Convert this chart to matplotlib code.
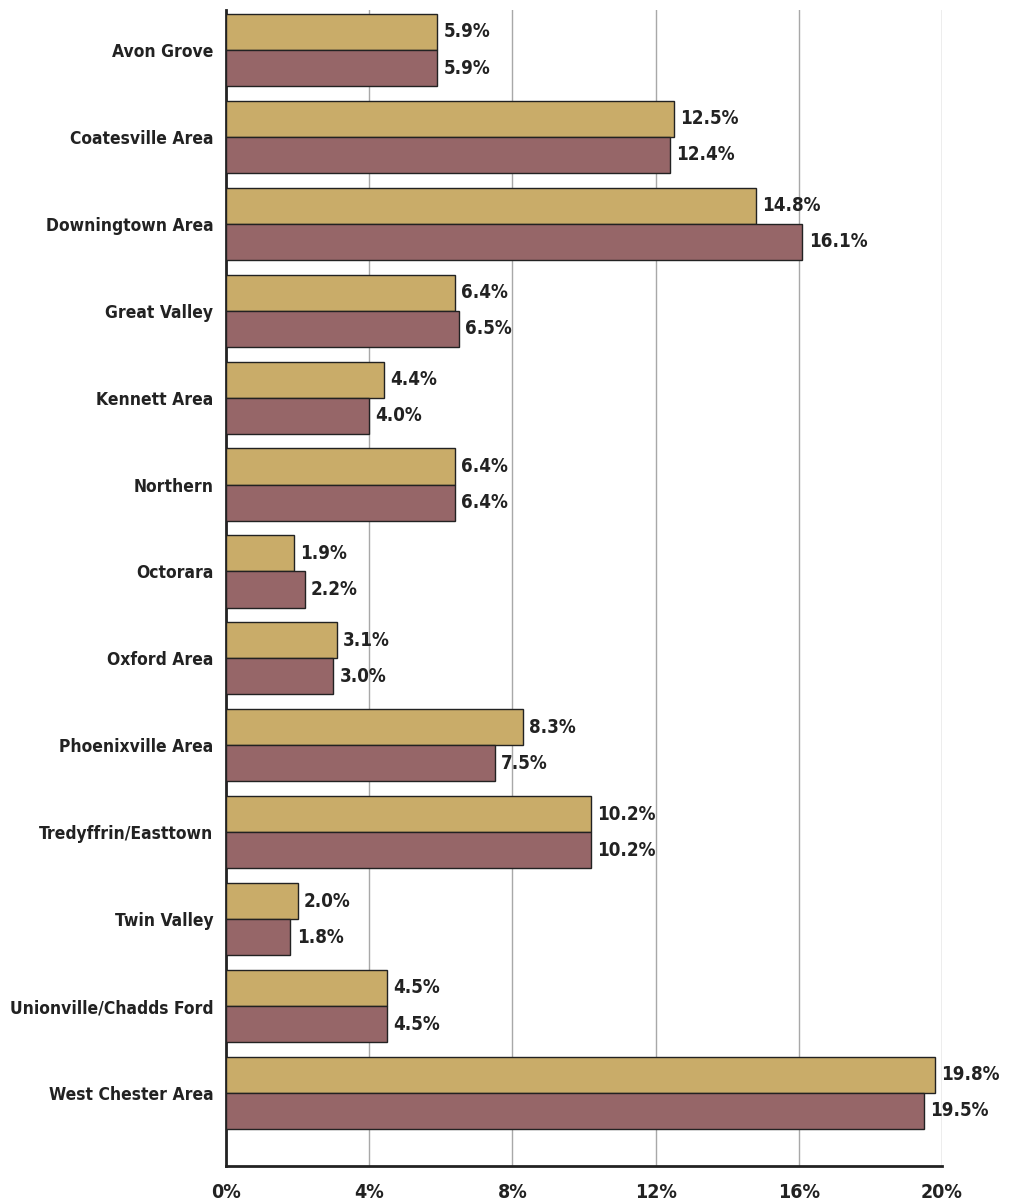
import matplotlib
matplotlib.use("Agg")
import matplotlib.pyplot as plt
import numpy as np

districts = ["Avon Grove", "Coatesville Area", "Downingtown Area", "Great Valley",
             "Kennett Area", "Northern", "Octorara", "Oxford Area",
             "Phoenixville Area", "Tredyffrin/Easttown", "Twin Valley",
             "Unionville/Chadds Ford", "West Chester Area"]
series_a = [5.9, 12.5, 14.8, 6.4, 4.4, 6.4, 1.9, 3.1, 8.3, 10.2, 2.0, 4.5, 19.8]
series_b = [5.9, 12.4, 16.1, 6.5, 4.0, 6.4, 2.2, 3.0, 7.5, 10.2, 1.8, 4.5, 19.5]
ticks = [0, 4, 8, 12, 16, 20]

plt.rcParams['font.family'] = ['DejaVu Sans']
plt.rcParams['font.stretch'] = 'condensed'
plt.rcParams['font.weight'] = 'bold'

fig = plt.figure(figsize=(10.09, 12.03), dpi=100)
ax = fig.add_axes([0.224, 0.0308, 0.7096, 0.9609])

y = np.arange(len(districts))
h = 0.415
gold = "#C9AC69"
mauve = "#966668"

ax.barh(y - h / 2, series_a, height=h, color=gold, edgecolor="#222222", linewidth=1, zorder=3)
ax.barh(y + h / 2, series_b, height=h, color=mauve, edgecolor="#222222", linewidth=1, zorder=3)

for i in range(len(districts)):
    ax.annotate(f"{series_a[i]:.1f}%", (series_a[i], y[i] - h / 2), xytext=(4.5, 0),
                textcoords="offset points", va="center", ha="left",
                fontsize=13.5, fontweight="bold", color="#222222")
    ax.annotate(f"{series_b[i]:.1f}%", (series_b[i], y[i] + h / 2), xytext=(4.5, 0),
                textcoords="offset points", va="center", ha="left",
                fontsize=13.5, fontweight="bold", color="#222222")

ax.set_xlim(0, 20)
ax.set_ylim(12.84, -0.46)
ax.set_yticks(y)
ax.set_yticklabels(districts, fontsize=12.5, fontweight="bold", color="#222222")
ax.set_xticks(ticks)
ax.set_xticklabels([f"{t}%" for t in ticks], fontsize=14, fontweight="bold", color="#222222")
ax.tick_params(axis="y", length=0, pad=9)
ax.tick_params(axis="x", length=0, pad=12)

ax.grid(axis="x", color="#A8A8A8", linewidth=1, zorder=0)
for s in ["top", "right"]:
    ax.spines[s].set_visible(False)
ax.spines["left"].set_linewidth(2)
ax.spines["bottom"].set_linewidth(2)
ax.spines["left"].set_color("#222222")
ax.spines["bottom"].set_color("#222222")

fig.savefig("out.png", dpi=100)
